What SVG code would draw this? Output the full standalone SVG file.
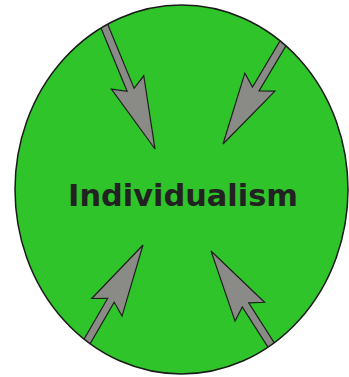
<svg xmlns="http://www.w3.org/2000/svg" xmlns:xlink="http://www.w3.org/1999/xlink" width="349" height="377" viewBox="0 0 349 377">
<style>
.body{fill:#2ec42a;}
.rim{fill:none;stroke:#1a1a1a;stroke-width:1.5;}
.arrow{fill:#8a8a86;stroke:#1e1e1e;stroke-width:1.2;stroke-linejoin:miter;}
.label{font-family:"DejaVu Sans",Verdana,sans-serif;font-weight:bold;font-size:30.4px;fill:#222;text-anchor:middle;}
</style>
<defs>
<clipPath id="clip"><ellipse cx="181.5" cy="189.5" rx="166.5" ry="184.5"/></clipPath>
<polygon id="arr" class="arrow" points="0,0 -72,-17.5 -64,-3.8 -170,-3.8 -170,3.8 -64,3.8 -72,17.5"/>
</defs>
<rect width="349" height="377" fill="#fff"/>
<g id="individualism">
<ellipse class="body" cx="181.5" cy="189.5" rx="166.5" ry="184.5"/>
</g>
<g id="connectors" clip-path="url(#clip)">
<use xlink:href="#arr" transform="translate(155,149) rotate(67.6)"/>
<use xlink:href="#arr" transform="translate(223,144) rotate(120.8)"/>
<use xlink:href="#arr" transform="translate(143,245) rotate(-59.9)"/>
<use xlink:href="#arr" transform="translate(211,251) rotate(-122.6)"/>
</g>
<ellipse class="rim" cx="181.5" cy="189.5" rx="166.5" ry="184.5"/>
<text class="label" x="183" y="206">Individualism</text>
</svg>
